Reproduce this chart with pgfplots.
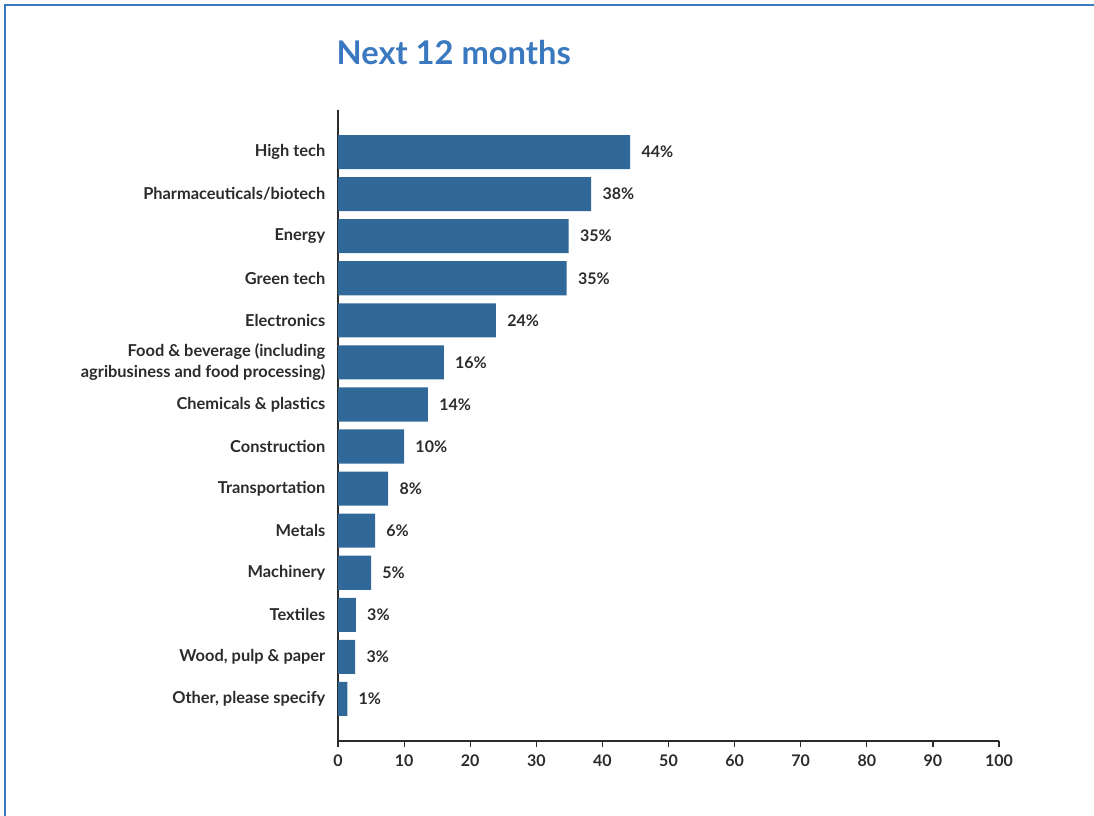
\documentclass[border=0pt]{standalone}
\usepackage{pgfplots}
\pgfplotsset{compat=1.18}
\usepackage{pgfplotstable}
\usepackage{fontspec}
\setmainfont{Lato}
\definecolor{barblue}{HTML}{2F6899}
\definecolor{titleblue}{HTML}{3A78C0}
\definecolor{txt}{HTML}{2B2B2B}
\pgfplotstableread{
y x lab
0 44.2 44\%
1 38.3 38\%
2 34.9 35\%
3 34.6 35\%
4 23.9 24\%
5 16.0 16\%
6 13.6 14\%
7 10.0 10\%
8 7.6 8\%
9 5.6 6\%
10 5.0 5\%
11 2.7 3\%
12 2.6 3\%
13 1.4 1\%
}\datatable
\begin{document}
\begin{tikzpicture}[x=0.75pt,y=0.75pt]
\path[use as bounding box] (0,0) rectangle (1094,816);
\draw[titleblue, line width=2.2pt] (5,0) -- (5,811) -- (1094,811);
\node[anchor=west, text=titleblue, font=\fontsize{24.5}{28}\selectfont\bfseries] at (332,763) {Next 12 months};
\begin{axis}[
  at={(253.5pt,56.25pt)}, anchor=south west,
  scale only axis, width=495.75pt, height=473.25pt,
  xbar, bar width=0.81,
  xmin=0, xmax=100, ymin=-1, ymax=14, y dir=reverse,
  axis lines=left, axis line style={-, draw=txt, line width=0.9pt},
  xtick={0,10,...,100}, ytick={0,...,13},
  yticklabels={High tech,Pharmaceuticals/biotech,Energy,Green tech,Electronics,{Food \& beverage (including\\agribusiness and food processing)},Chemicals \& plastics,Construction,Transportation,Metals,Machinery,Textiles,{Wood, pulp \& paper},{Other, please specify}},
  yticklabel style={align=right, font=\fontsize{12.3}{15.8}\selectfont\bfseries, text=txt, xshift=-1.5pt},
  xticklabel style={font=\fontsize{12}{14}\selectfont\bfseries, text=txt, yshift=-2pt},
  /pgf/number format/assume math mode=true,
  major y tick style={draw=none},
  major x tick style={draw=txt, line width=0.9pt},
  tick align=outside, major tick length=4.5pt,
  nodes near coords, point meta=explicit symbolic,
  every node near coord/.append style={font=\fontsize{12}{14}\selectfont\bfseries, text=txt, anchor=west, xshift=5pt},
]
\addplot[fill=barblue, draw=none] table[x=x, y=y, meta=lab] {\datatable};
\end{axis}
\end{tikzpicture}
\end{document}
